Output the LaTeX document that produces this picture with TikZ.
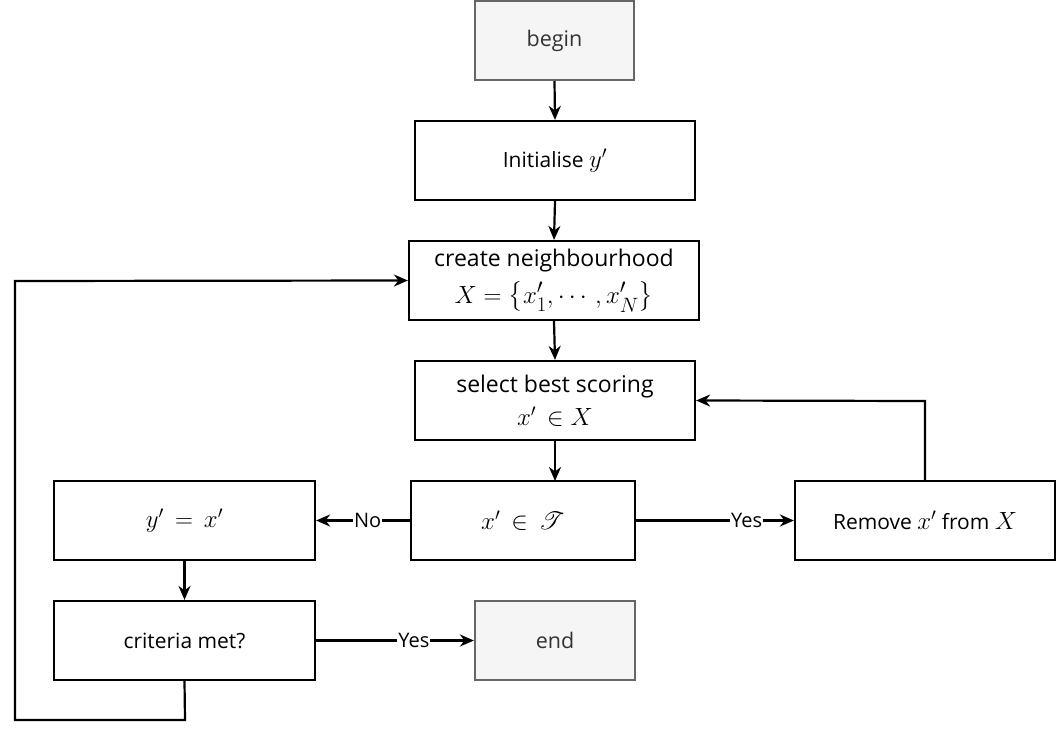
\documentclass[tikz,border=0pt]{standalone}
\usepackage{fontspec}
\setmainfont{Open Sans}
\usepackage{amsmath}
\usepackage{mathrsfs}
\usetikzlibrary{arrows.meta,positioning}
\newcommand{\mth}[1]{{\fontsize{27}{30}\selectfont$#1$}}
\newcommand{\mthb}[1]{{\fontsize{30}{33}\selectfont$#1$}}
\begin{document}
\begin{tikzpicture}[x=1pt,y=-1pt,
  box/.style={draw=black,line width=2.2pt,minimum height=79pt,align=center,inner sep=2pt,font=\fontsize{21}{24}\selectfont},
  bigbox/.style={box,font=\fontsize{23}{26}\selectfont},
  term/.style={draw=black!60,fill=black!4,text=black!80,line width=2.2pt,minimum width=159pt,minimum height=79pt,font=\fontsize{21.5}{24}\selectfont},
  conn/.style={line width=2.2pt,-{Stealth[length=14pt,width=12pt,inset=4.5pt]}},
  lbl/.style={fill=white,inner sep=1pt,font=\fontsize{20}{23}\selectfont}]
\useasboundingbox (0,0) rectangle (1056,738);
\node[term] (begin) at (554.5,40.5) {begin};
\node[box,minimum width=280pt] (init) at (555,160.5) {Initialise \mth{y'}};
\node[bigbox,minimum width=290pt] (create) at (554,280.5) {create neighbourhood\\[9pt]\mthb{X = \bigl\{x_1', \cdots, x_N'\bigr\}}};
\node[bigbox,minimum width=280pt] (select) at (555,400.5) {select best scoring\\[7pt]\mth{x' \,\in X}};
\node[box,minimum width=224pt] (test) at (523,520.5) {\mth{x' \,\in\, \mathscr{T}}};
\node[box,minimum width=260pt] (remove) at (925,520.5) {Remove \mth{x'} from \mth{X}};
\node[box,minimum width=261pt] (assign) at (184.5,520.5) {\mth{y' \,=\, x'}};
\node[box,minimum width=261pt] (crit) at (184.5,640.5) {criteria met?};
\node[term,minimum width=160pt] (end) at (555,640.5) {end};
\coordinate (c1) at (185,720);
\coordinate (c2) at (15,720);
\coordinate (c3) at (15,281);
\coordinate (r1) at (925,401);
\draw[conn] (begin.south) -- (init.north);
\draw[conn] (init.south) -- (create.north);
\draw[conn] (create.south) -- (select.north);
\draw[conn] (select.south) -- (555,481);
\draw[conn] (test.west) -- node[lbl,pos=0.45]{No} (assign.east);
\draw[conn] (test.east) -- node[lbl,pos=0.7]{Yes} (remove.west);
\draw[conn] (assign.south) -- (crit.north);
\draw[conn] (crit.east) -- node[lbl,pos=0.62]{Yes} (end.west);
\draw[conn] (remove.north) -- (r1) -- (select.east);
\draw[conn] (crit.south) -- (c1) -- (c2) -- (c3) -- (create.west);
\end{tikzpicture}
\end{document}
